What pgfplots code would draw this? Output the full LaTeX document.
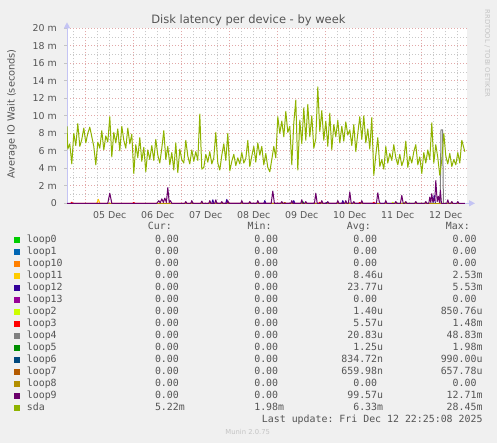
\documentclass[border=0pt]{standalone}
\usepackage{fontspec}
\setmainfont{DejaVu Sans}
\setmonofont{DejaVu Sans Mono}
\usepackage{pgfplots}
\pgfplotsset{compat=1.18}
\usetikzlibrary{arrows.meta}

\definecolor{bgc}{HTML}{F0F0F0}
\definecolor{txt}{HTML}{555555}
\definecolor{faint}{HTML}{C4C4C4}
\definecolor{majgrid}{HTML}{E2A8A8}
\definecolor{mingrid}{HTML}{C8C8C8}
\definecolor{axiscol}{HTML}{C4C4F4}
\definecolor{cloop0}{HTML}{00CC00}
\definecolor{cloop1}{HTML}{0066B3}
\definecolor{cloop10}{HTML}{FF8000}
\definecolor{cloop11}{HTML}{FFCC00}
\definecolor{cloop12}{HTML}{330099}
\definecolor{cloop13}{HTML}{990099}
\definecolor{cloop2}{HTML}{CCFF00}
\definecolor{cloop3}{HTML}{FF0000}
\definecolor{cloop4}{HTML}{808080}
\definecolor{cloop5}{HTML}{008F00}
\definecolor{cloop6}{HTML}{00487D}
\definecolor{cloop7}{HTML}{B35A00}
\definecolor{cloop8}{HTML}{B38F00}
\definecolor{cloop9}{HTML}{6B006B}
\definecolor{csda}{HTML}{8FB300}

\newcommand{\legfont}{\fontsize{9.9}{11}\ttfamily}
\newcommand{\nounit}{\phantom{0}}
% one legend row: index, colour, name, cur, min, avg, max
\newcommand{\legrow}[7]{%
  \pgfmathsetmacro\by{200-12*#1}
  \fill[#2] (14,\by-0.3) rectangle ++(6,6);
  \node[anchor=base west] at (26.7,\by) {#3};
  \node[anchor=base east] at (185,\by) {#4};
  \node[anchor=base east] at (284.3,\by) {#5};
  \node[anchor=base east] at (383.3,\by) {#6};
  \node[anchor=base east] at (482.7,\by) {#7};
}

% sda, hours from 05 Dec 00:00, value in ms
\pgfplotstableread{
h v
-9.4 8.8
-9 6.2
-8 6.8
-7 4.5
-6 8.0
-5 6.6
-4 9.1
-3 6.5
-2 7.3
-1 8.6
0 6.9
1 8.0
2 8.7
3 7.6
4 6.5
5 4.4
6 7.0
7 6.3
8 8.3
9 6.1
10 7.7
11 7.0
12 9.9
13 5.3
14 8.1
15 6.9
16 8.5
17 6.0
18 8.8
19 7.2
20 6.3
21 8.6
22 6.8
23 7.9
24 3.4
25 6.7
26 5.2
27 7.5
28 4.8
29 6.4
30 3.6
31 6.1
32 5.0
33 6.6
34 4.9
35 7.3
36 5.5
37 4.6
38 6.3
39 8.3
40 5.0
41 6.5
42 4.4
43 5.8
44 3.8
45 6.9
46 3.5
47 6.2
48 5.0
49 4.6
50 7.2
51 5.4
52 4.5
53 6.1
54 4.8
55 5.9
56 4.9
57 10.2
58 3.9
59 4.1
60 5.6
61 4.7
62 5.9
63 4.5
64 5.2
65 8.1
66 4.6
67 3.8
68 5.5
69 6.8
70 4.9
71 8.0
72 3.7
73 4.8
74 5.6
75 4.3
76 5.2
77 4.5
78 5.8
79 4.6
80 5.1
81 7.2
82 4.2
83 5.4
84 6.5
85 4.7
86 6.9
87 5.5
88 6.5
89 4.4
90 5.7
91 4.1
92 3.6
93 5.0
94 6.5
95 5.2
96 9.9
97 8.0
98 9.4
99 7.6
100 10.5
101 8.1
102 8.8
103 4.4
104 9.2
105 11.8
106 3.8
107 9.5
108 6.8
109 10.9
110 7.2
111 11.3
112 7.6
113 10.0
114 6.3
115 7.4
116 13.3
117 8.2
118 10.6
119 7.2
120 9.4
121 6.5
122 10.3
123 6.1
124 9.0
125 7.6
126 9.5
127 6.9
128 8.8
129 7.1
130 9.3
131 7.8
132 8.4
133 6.6
134 9.0
135 5.9
136 8.0
137 9.9
138 7.3
139 10.0
140 6.9
141 8.5
142 6.2
143 9.8
144 3.2
145 5.5
146 7.5
147 4.2
148 5.0
149 3.9
150 6.5
151 4.6
152 5.7
153 4.9
154 6.7
155 5.2
156 4.4
157 5.6
158 4.3
159 5.0
160 7.1
161 4.1
162 5.4
163 4.6
164 5.9
165 6.7
166 4.4
167 5.3
168 3.4
169 5.8
170 4.6
171 6.1
172 5.0
173 9.2
174 4.6
175 6.7
176 5.2
177 3.2
178 5.0
179 8.0
180 5.4
181 4.5
182 5.7
183 4.2
184 5.0
185 4.4
186 5.8
187 4.6
188 7.2
189.5 5.9
}\sdatab

\begin{document}
\begin{tikzpicture}[x=1pt,y=1pt]
\useasboundingbox (0,0) rectangle (497,443);
\fill[bgc] (0,0) rectangle (497,443);

\begin{axis}[
    at={(67pt,239.7pt)}, anchor=south west,
    scale only axis, width=400pt, height=175pt,
    xmin=-9.4, xmax=190.6, ymin=0, ymax=20,
    axis background/.style={fill=white},
    axis x line=bottom, axis y line=left,
    axis line style={draw=axiscol, line width=1pt},
    x axis line style={-{Triangle[length=6pt,width=6pt]}, shorten >=-8pt},
    y axis line style={-{Triangle[length=6pt,width=6pt]}, shorten >=-6pt},
    xtick={12,36,...,180},
    xticklabels={05 Dec,06 Dec,07 Dec,08 Dec,09 Dec,10 Dec,11 Dec,12 Dec},
    minor xtick={-6,6,12,18,30,36,42,54,60,66,78,84,90,102,108,114,126,132,138,150,156,162,174,180,186},
    extra x ticks={0,24,...,168},
    extra x tick labels={},
    extra x tick style={grid=major, major tick length=0pt},
    ytick={0,2,...,20},
    yticklabels={0,2 m,4 m,6 m,8 m,10 m,12 m,14 m,16 m,18 m,20 m},
    minor ytick={1,3,...,19},
    xmajorgrids=false, ymajorgrids=true,
    xminorgrids=true, yminorgrids=true,
    major grid style={draw=majgrid, line width=0.8pt, dash pattern=on 1pt off 2pt},
    minor grid style={draw=mingrid, line width=0.8pt, dash pattern=on 1pt off 2pt},
    tick align=outside,
    major tick length=3pt, minor tick length=0pt,
    x tick style={draw=none},
    y tick style={draw=faint, line width=0.6pt},
    /pgf/number format/assume math mode=true,
    ticklabel style={font=\fontsize{9.4}{10}\selectfont, text=txt, inner sep=0pt},
    xticklabel style={anchor=base, yshift=-12.4pt},
    yticklabel style={anchor=east, xshift=-7pt},
    every axis plot/.append style={line width=1pt, line join=round},
]
% zero series
\addplot[cloop0] coordinates {(-9.4,0) (189.5,0)};
\addplot[cloop1] coordinates {(-9.4,0) (189.5,0)};
\addplot[cloop10] coordinates {(-9.4,0) (189.5,0)};
\addplot[cloop11] coordinates {(5.5,0) (6.3,0.45) (7,0)};
\addplot[cloop12] coordinates {(63,0) (63.5,0.4) (64,0) (70,0) (70.5,0.45) (71,0) (89,0) (89.5,0.3) (90,0) (103.5,0) (104,0.3) (104.5,0) (128,0) (128.5,0.3) (129,0) (173.6,0) (174.2,0.9) (174.8,0)};
\addplot[cloop13] coordinates {(-9.4,0) (189.5,0)};
\addplot[cloop2] coordinates {(153,0) (153.5,0.12) (154,0) (159,0) (159.5,0.12) (160,0) (182.5,0) (183,0.12) (183.5,0)};
\addplot[cloop3] coordinates {(-7.5,0) (-7,0.12) (-6.5,0) (23.5,0) (24,0.1) (24.5,0) (116.5,0) (117,0.12) (117.5,0) (136.5,0) (137,0.1) (137.5,0) (143.5,0) (144,0.12) (144.5,0)};
\addplot[cloop4] coordinates {(177.2,0) (177.6,8.4) (178.4,8.4) (178.8,0)};
\addplot[cloop5] coordinates {(108,0) (108.5,0.2) (109,0)};
\addplot[cloop6] coordinates {(120,0) (120.5,0.1) (121,0)};
\addplot[cloop7] coordinates {(99,0) (99.5,0.1) (100,0)};
\addplot[cloop8] coordinates {(-9.4,0) (189.5,0)};
\addplot[cloop9] coordinates {
(-9.4,0)(11,0)(12,1.15)(13,0)(35.5,0)(36.5,0.3)(37.2,0.05)(38,0.5)(38.8,0.1)(39.5,0.6)(40.3,0.1)(41,1.8)(41.7,0.1)(42.3,0.3)(43,0)
(49.5,0)(50,0.2)(50.5,0)(52.5,0)(53,0.3)(53.5,0)(57.5,0)(58,0.25)(58.5,0)(61.5,0)(62,0.3)(62.5,0)(64.5,0)(65,0.4)(65.5,0)
(67.5,0)(68,0.2)(68.5,0)(70.5,0)(71,0.3)(71.5,0)(77.5,0)(78,0.3)(78.5,0)(81.5,0)(82,0.2)(82.5,0)(85.5,0)(86,0.3)(86.5,0)
(92.7,0)(93.5,1.4)(94.3,0)(97.5,0)(98,0.2)(98.5,0)(102.5,0)(103,0.3)(103.5,0)(107.5,0)(108,0.4)(108.5,0)(109.5,0)(110,0.2)(110.5,0)
(114.3,0)(115,1.15)(115.7,0)(117.5,0)(118,0.3)(118.5,0)(120.5,0)(121,0.2)(121.5,0)(125.5,0)(126,0.3)(126.5,0)(129.5,0)(130,0.3)(130.5,0)
(131.3,0)(132,1.3)(132.7,0)(133.5,0)(134,0.2)(134.5,0)(137.5,0)(138,0.3)(138.5,0)(145.3,0)(146,1.2)(146.7,0.2)(147.2,0)
(149.5,0)(150,0.3)(150.5,0)(154.5,0)(155,0.2)(155.5,0)(157.3,0)(158,0.9)(158.7,0)(159.5,0)(160,0.2)(160.5,0)(164.5,0)(165,0.2)(165.5,0)
(169.5,0)(170,0.2)(170.5,0)(171.5,0)(172,0.7)(172.5,0.1)(173,1.1)(173.5,0.2)(174,0.5)(174.5,0.3)(175,2.6)(175.7,0.2)(176.3,0.8)(176.8,0.1)(177.3,1.5)(177.8,0)
(180.5,0)(181,0.4)(181.5,0)(182.5,0)(183,0.2)(183.5,0)(185.5,0)(186,0.2)(186.5,0)(189.5,0)};
\addplot[csda] table[x=h, y=v] {\sdatab};
\end{axis}

% titles
\node[anchor=base, text=txt, font=\fontsize{11.5}{13}\selectfont] at (248.4,419) {Disk latency per device - by week};
\node[anchor=base, rotate=90, text=txt, font=\fontsize{9.8}{11}\selectfont] at (14.5,329) {Average IO Wait (seconds)};
\node[rotate=-90, text=faint, font=\fontsize{6.8}{8}\selectfont] at (487.3,389.6) {RRDTOOL / TOBI OETIKER};

% legend
\begin{scope}[every node/.style={inner sep=0pt, font=\legfont, text=txt}]
\node[anchor=base east] at (172,213) {Cur:};
\node[anchor=base east] at (271.7,213) {Min:};
\node[anchor=base east] at (371,213) {Avg:};
\node[anchor=base east] at (470,213) {Max:};
\legrow{0}{cloop0}{loop0}{0.00\nounit}{0.00\nounit}{0.00\nounit}{0.00\nounit}
\legrow{1}{cloop1}{loop1}{0.00\nounit}{0.00\nounit}{0.00\nounit}{0.00\nounit}
\legrow{2}{cloop10}{loop10}{0.00\nounit}{0.00\nounit}{0.00\nounit}{0.00\nounit}
\legrow{3}{cloop11}{loop11}{0.00\nounit}{0.00\nounit}{8.46u}{2.53m}
\legrow{4}{cloop12}{loop12}{0.00\nounit}{0.00\nounit}{23.77u}{5.53m}
\legrow{5}{cloop13}{loop13}{0.00\nounit}{0.00\nounit}{0.00\nounit}{0.00\nounit}
\legrow{6}{cloop2}{loop2}{0.00\nounit}{0.00\nounit}{1.40u}{850.76u}
\legrow{7}{cloop3}{loop3}{0.00\nounit}{0.00\nounit}{5.57u}{1.48m}
\legrow{8}{cloop4}{loop4}{0.00\nounit}{0.00\nounit}{20.83u}{48.83m}
\legrow{9}{cloop5}{loop5}{0.00\nounit}{0.00\nounit}{1.25u}{1.98m}
\legrow{10}{cloop6}{loop6}{0.00\nounit}{0.00\nounit}{834.72n}{990.00u}
\legrow{11}{cloop7}{loop7}{0.00\nounit}{0.00\nounit}{659.98n}{657.78u}
\legrow{12}{cloop8}{loop8}{0.00\nounit}{0.00\nounit}{0.00\nounit}{0.00\nounit}
\legrow{13}{cloop9}{loop9}{0.00\nounit}{0.00\nounit}{99.57u}{12.71m}
\legrow{14}{csda}{sda}{5.22m}{1.98m}{6.33m}{28.45m}
\node[anchor=base east] at (482.7,20.2) {Last update: Fri Dec 12 22:25:08 2025};
\end{scope}
\node[anchor=base, text=faint, inner sep=0pt, font=\fontsize{6.8}{8}\selectfont] at (247.7,8) {Munin 2.0.75};
\end{tikzpicture}
\end{document}
